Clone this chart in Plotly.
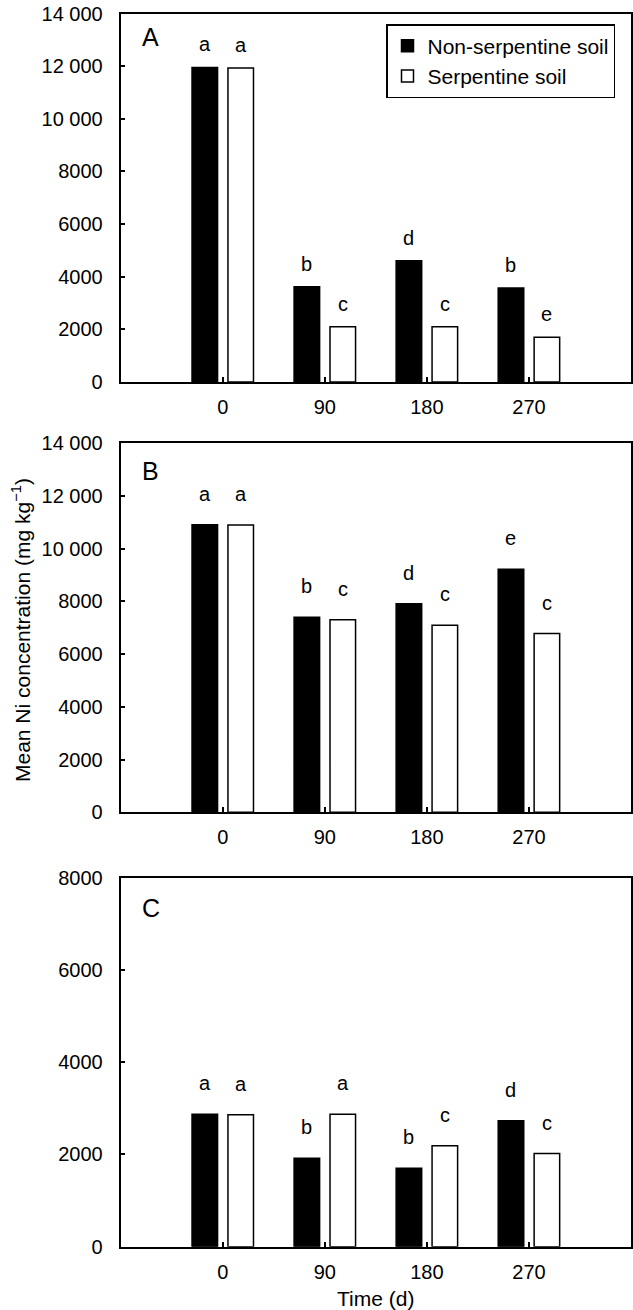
import plotly.graph_objects as go

W, H = 633, 1310

times = ["0", "90", "180", "270"]
series_names = ["Non-serpentine soil", "Serpentine soil"]

# Panel A
a_nonserp = [11950, 3620, 4610, 3570]
a_serp = [11930, 2100, 2100, 1700]
a_nonserp_letters = ["a", "b", "d", "b"]
a_serp_letters = ["a", "c", "c", "e"]

# Panel B
b_nonserp = [10910, 7400, 7910, 9220]
b_serp = [10900, 7310, 7100, 6780]
b_nonserp_letters = ["a", "b", "d", "e"]
b_serp_letters = ["a", "c", "c", "c"]

# Panel C
c_nonserp = [2870, 1920, 1700, 2730]
c_serp = [2860, 2870, 2190, 2020]
c_nonserp_letters = ["a", "b", "b", "d"]
c_serp_letters = ["a", "a", "c", "c"]

panel_labels = ["A", "B", "C"]

a_tickvals = [0, 2000, 4000, 6000, 8000, 10000, 12000, 14000]
a_ticktext = ["0", "2000", "4000", "6000", "8000", "10 000", "12 000", "14 000"]
c_tickvals = [0, 2000, 4000, 6000, 8000]
c_ticktext = ["0", "2000", "4000", "6000", "8000"]

panels = [
    dict(ns=a_nonserp, s=a_serp, nsl=a_nonserp_letters, sl=a_serp_letters,
         ymax=14000, tv=a_tickvals, tt=a_ticktext, top=13.5, bot=382.0, loff=23, lab_dy=23),
    dict(ns=b_nonserp, s=b_serp, nsl=b_nonserp_letters, sl=b_serp_letters,
         ymax=14000, tv=a_tickvals, tt=a_ticktext, top=443.3, bot=812.3, loff=31, lab_dy=28),
    dict(ns=c_nonserp, s=c_serp, nsl=c_nonserp_letters, sl=c_serp_letters,
         ymax=8000, tv=c_tickvals, tt=c_ticktext, top=877.7, bot=1246.7, loff=31, lab_dy=30),
]

FONT = "Liberation Sans, Arial, Helvetica, sans-serif"
x0_px, x1_px = 120.7, 631.0

fig = go.Figure()
annotations = []
layout = {}

for i, p in enumerate(panels):
    n = i + 1
    xa = "x" if n == 1 else f"x{n}"
    ya = "y" if n == 1 else f"y{n}"
    fig.add_trace(go.Bar(
        x=times, y=p["ns"], name=series_names[0], xaxis=xa, yaxis=ya,
        marker=dict(color="black", line=dict(color="black", width=1.5)),
        showlegend=(n == 1), legendgroup="g1",
    ))
    fig.add_trace(go.Bar(
        x=times, y=p["s"], name=series_names[1], xaxis=xa, yaxis=ya,
        marker=dict(color="white", line=dict(color="black", width=1.5)),
        showlegend=(n == 1), legendgroup="g2",
    ))
    xkey = "xaxis" if n == 1 else f"xaxis{n}"
    ykey = "yaxis" if n == 1 else f"yaxis{n}"
    layout[xkey] = dict(
        domain=[x0_px / W, x1_px / W], anchor=ya, type="category",
        range=[-1, 4], showline=True, mirror=True, linecolor="black", linewidth=2,
        ticks="inside", ticklen=5, tickwidth=1.5, tickcolor="black",
        showgrid=False, zeroline=False, fixedrange=True, automargin=False,
        tickfont=dict(family=FONT, size=20, color="black"),
        ticklabelstandoff=6,
    )
    layout[ykey] = dict(
        domain=[1 - p["bot"] / H, 1 - p["top"] / H], anchor=xa,
        range=[0, p["ymax"]], tickvals=p["tv"], ticktext=p["tt"],
        showline=True, mirror=True, linecolor="black", linewidth=2,
        ticks="inside", ticklen=4, tickwidth=1.5, tickcolor="black",
        showgrid=False, zeroline=False, fixedrange=True, automargin=False,
        tickfont=dict(family=FONT, size=20, color="black"),
        ticklabelstandoff=12,
    )
    for k in range(len(times)):
        annotations.append(dict(
            x=k, y=p["ns"][k], xref=xa, yref=ya, text=p["nsl"][k],
            showarrow=False, xshift=-18, yshift=p["loff"], yanchor="middle",
            font=dict(family=FONT, size=20, color="black"),
        ))
        annotations.append(dict(
            x=k, y=p["s"][k], xref=xa, yref=ya, text=p["sl"][k],
            showarrow=False, xshift=18, yshift=p["loff"], yanchor="middle",
            font=dict(family=FONT, size=20, color="black"),
        ))
    annotations.append(dict(
        x=0, y=1, xref=f"{xa} domain", yref=f"{ya} domain", text=panel_labels[i],
        showarrow=False, xshift=30, yshift=-p["lab_dy"], xanchor="center", yanchor="middle",
        font=dict(family=FONT, size=25, color="black"),
    ))

annotations.append(dict(
    x=21 / W, y=1 - 630 / H, xref="paper", yref="paper",
    text="Mean Ni concentration (mg kg<sup>−1</sup>)", textangle=-90,
    showarrow=False, xanchor="center", yanchor="middle",
    font=dict(family=FONT, size=21, color="black"),
))
annotations.append(dict(
    x=(x0_px + x1_px) / 2 / W, y=1 - 1298 / H, xref="paper", yref="paper",
    text="Time (d)", showarrow=False, xanchor="center", yanchor="middle",
    font=dict(family=FONT, size=21, color="black"),
))

fig.update_layout(
    width=W, height=H,
    margin=dict(l=0, r=0, t=0, b=0),
    paper_bgcolor="white", plot_bgcolor="white",
    barmode="group", bargap=0.296, bargroupgap=0.289,
    annotations=annotations,
    legend=dict(
        x=615 / W, y=1 - 24 / H, xanchor="right", yanchor="top",
        bordercolor="black", borderwidth=1.5, bgcolor="white",
        font=dict(family=FONT, size=21, color="black"),
        tracegroupgap=0, traceorder="normal",
    ),
    **layout,
)

fig.write_html(
    "out.html",
    config={"displayModeBar": False},
    post_script="document.body.style.margin='0';document.body.style.overflow='hidden';",
)
